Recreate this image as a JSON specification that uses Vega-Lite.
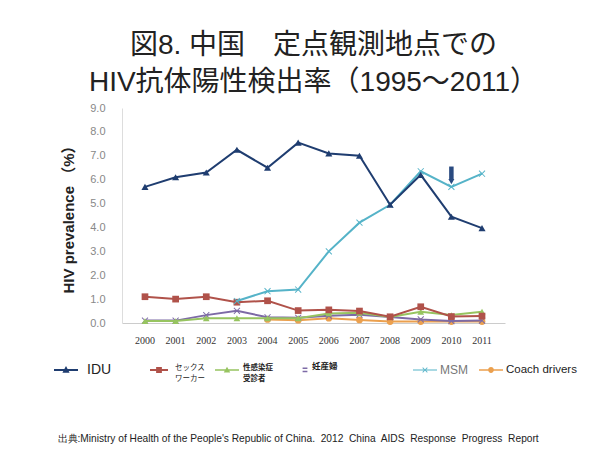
{
  "$schema": "https://vega.github.io/schema/vega-lite/v6.json",
  "width": 383,
  "height": 215,
  "autosize": {"type": "none"},
  "padding": {"left": 122, "top": 108, "right": 109, "bottom": 133},
  "background": "white",
  "config": {
    "view": {"stroke": null},
    "legend": {
      "orient": "none",
      "direction": "horizontal",
      "title": null,
      "padding": 0,
      "symbolSize": 576,
      "symbolStrokeWidth": 0,
      "labelOffset": 4,
      "labelColor": "#222222",
      "labelLimit": 300
    }
  },
  "title": {
    "text": ["図8. 中国　定点観測地点での", "HIV抗体陽性検出率（1995～2011）"],
    "font": "Liberation Sans, Noto Sans CJK JP",
    "fontSize": 28,
    "fontWeight": "normal",
    "color": "#222222",
    "lineHeight": 37,
    "anchor": "middle",
    "offset": 5
  },
  "resolve": {"scale": {"color": "independent"}},
  "data": {
    "values": [
      {"year": 2000, "group": "IDU", "value": 5.7},
      {"year": 2001, "group": "IDU", "value": 6.1},
      {"year": 2002, "group": "IDU", "value": 6.3},
      {"year": 2003, "group": "IDU", "value": 7.25},
      {"year": 2004, "group": "IDU", "value": 6.5},
      {"year": 2005, "group": "IDU", "value": 7.55},
      {"year": 2006, "group": "IDU", "value": 7.1},
      {"year": 2007, "group": "IDU", "value": 7.0},
      {"year": 2008, "group": "IDU", "value": 4.95},
      {"year": 2009, "group": "IDU", "value": 6.2},
      {"year": 2010, "group": "IDU", "value": 4.45},
      {"year": 2011, "group": "IDU", "value": 3.97},
      {"year": 2000, "group": "セックス|ワーカー", "value": 1.1},
      {"year": 2001, "group": "セックス|ワーカー", "value": 1.0},
      {"year": 2002, "group": "セックス|ワーカー", "value": 1.1},
      {"year": 2003, "group": "セックス|ワーカー", "value": 0.87},
      {"year": 2004, "group": "セックス|ワーカー", "value": 0.93},
      {"year": 2005, "group": "セックス|ワーカー", "value": 0.52},
      {"year": 2006, "group": "セックス|ワーカー", "value": 0.55},
      {"year": 2007, "group": "セックス|ワーカー", "value": 0.5},
      {"year": 2008, "group": "セックス|ワーカー", "value": 0.26},
      {"year": 2009, "group": "セックス|ワーカー", "value": 0.68},
      {"year": 2010, "group": "セックス|ワーカー", "value": 0.27},
      {"year": 2011, "group": "セックス|ワーカー", "value": 0.29},
      {"year": 2000, "group": "性感染症|受診者", "value": 0.08},
      {"year": 2001, "group": "性感染症|受診者", "value": 0.08},
      {"year": 2002, "group": "性感染症|受診者", "value": 0.2},
      {"year": 2003, "group": "性感染症|受診者", "value": 0.2},
      {"year": 2004, "group": "性感染症|受診者", "value": 0.2},
      {"year": 2005, "group": "性感染症|受診者", "value": 0.2},
      {"year": 2006, "group": "性感染症|受診者", "value": 0.4},
      {"year": 2007, "group": "性感染症|受診者", "value": 0.43},
      {"year": 2008, "group": "性感染症|受診者", "value": 0.25},
      {"year": 2009, "group": "性感染症|受診者", "value": 0.47},
      {"year": 2010, "group": "性感染症|受診者", "value": 0.33},
      {"year": 2011, "group": "性感染症|受診者", "value": 0.47},
      {"year": 2000, "group": "妊産婦", "value": 0.1},
      {"year": 2001, "group": "妊産婦", "value": 0.1},
      {"year": 2002, "group": "妊産婦", "value": 0.33},
      {"year": 2003, "group": "妊産婦", "value": 0.51},
      {"year": 2004, "group": "妊産婦", "value": 0.24},
      {"year": 2005, "group": "妊産婦", "value": 0.22},
      {"year": 2006, "group": "妊産婦", "value": 0.3},
      {"year": 2007, "group": "妊産婦", "value": 0.35},
      {"year": 2008, "group": "妊産婦", "value": 0.25},
      {"year": 2009, "group": "妊産婦", "value": 0.15},
      {"year": 2010, "group": "妊産婦", "value": 0.08},
      {"year": 2011, "group": "妊産婦", "value": 0.1},
      {"year": 2003, "group": "MSM", "value": 0.92},
      {"year": 2004, "group": "MSM", "value": 1.33},
      {"year": 2005, "group": "MSM", "value": 1.4},
      {"year": 2006, "group": "MSM", "value": 3.0},
      {"year": 2007, "group": "MSM", "value": 4.2},
      {"year": 2008, "group": "MSM", "value": 4.95},
      {"year": 2009, "group": "MSM", "value": 6.35},
      {"year": 2010, "group": "MSM", "value": 5.7},
      {"year": 2011, "group": "MSM", "value": 6.25},
      {"year": 2004, "group": "Coach drivers", "value": 0.15},
      {"year": 2005, "group": "Coach drivers", "value": 0.12},
      {"year": 2006, "group": "Coach drivers", "value": 0.2},
      {"year": 2007, "group": "Coach drivers", "value": 0.13},
      {"year": 2008, "group": "Coach drivers", "value": 0.06},
      {"year": 2009, "group": "Coach drivers", "value": 0.06},
      {"year": 2010, "group": "Coach drivers", "value": 0.06},
      {"year": 2011, "group": "Coach drivers", "value": 0.06}
    ]
  },
  "encoding": {
    "x": {
      "field": "year",
      "type": "ordinal",
      "scale": {"padding": 0.5},
      "axis": {
        "labelAngle": 0,
        "labelFont": "Liberation Serif",
        "labelFontSize": 10,
        "labelColor": "#333333",
        "labelPadding": 12,
        "ticks": false,
        "domainColor": "#cccccc",
        "title": "出典:Ministry of Health of the People's Republic of China.\u00a0 2012\u00a0 China\u00a0 AIDS\u00a0 Response\u00a0 Progress\u00a0 Report",
        "titleFont": "Liberation Sans",
        "titleFontSize": 10.2,
        "titleFontWeight": "normal",
        "titleColor": "#222222",
        "titleAlign": "left",
        "titleBaseline": "alphabetic",
        "titleX": -65,
        "titleY": 118
      }
    },
    "y": {
      "field": "value",
      "type": "quantitative",
      "scale": {"domain": [0, 9], "nice": false},
      "axis": {
        "values": [0, 1, 2, 3, 4, 5, 6, 7, 8, 9],
        "format": ".1f",
        "grid": false,
        "ticks": false,
        "domainColor": "#dddddd",
        "labelFont": "Liberation Sans",
        "labelFontSize": 11,
        "labelColor": "#888888",
        "labelPadding": 17,
        "title": "HIV prevalence （%）",
        "titleFont": "Liberation Sans, Noto Sans CJK JP",
        "titleFontSize": 15,
        "titleFontWeight": "bold",
        "titleColor": "#222222",
        "titlePadding": 13
      }
    }
  },
  "layer": [
    {
      "transform": [{"filter": "datum.group == 'Coach drivers'"}],
      "encoding": {
        "color": {
          "field": "group", "type": "nominal",
          "scale": {"domain": ["Coach drivers"], "range": ["#eba04e"]},
          "legend": {
            "legendX": 357, "legendY": 250,
            "symbolType": "M-1,-0.06H1V0.06H-1Z M0.24,0A0.24,0.24 0 1,1 -0.24,0A0.24,0.24 0 1,1 0.24,0Z",
            "labelFont": "Liberation Sans", "labelFontSize": 11.5, "labelOffset": 3,
            "encode": {"symbols": {"update": {"fill": {"value": "#eba04e"}, "opacity": {"value": 1}}}}
          }
        }
      },
      "layer": [
        {"mark": {"type": "line", "strokeWidth": 2}},
        {"mark": {"type": "point", "shape": "circle", "filled": true, "opacity": 1, "size": 45}}
      ]
    },
    {
      "transform": [{"filter": "datum.group == '妊産婦'"}],
      "encoding": {
        "color": {
          "field": "group", "type": "nominal",
          "scale": {"domain": ["妊産婦"], "range": ["#7d6aa6"]},
          "legend": {
            "legendX": 162, "legendY": 250,
            "symbolType": "M0.55,-0.2H0.95V-0.08H0.55Z M0.55,0.06H0.95V0.18H0.55Z",
            "labelFont": "Noto Sans CJK JP", "labelFontSize": 8.5, "labelFontWeight": "bold",
            "encode": {"symbols": {"update": {"fill": {"value": "#7d6aa6"}, "opacity": {"value": 1}}}, "labels": {"update": {"dy": {"value": -4}}}}
          }
        }
      },
      "layer": [
        {"mark": {"type": "line", "strokeWidth": 2}},
        {"mark": {"type": "point", "shape": "M-1,-0.8L-0.8,-1L0,-0.2L0.8,-1L1,-0.8L0.2,0L1,0.8L0.8,1L0,0.2L-0.8,1L-1,0.8L-0.2,0Z", "filled": true, "opacity": 1, "size": 45}}
      ]
    },
    {
      "transform": [{"filter": "datum.group == '性感染症|受診者'"}],
      "encoding": {
        "color": {
          "field": "group", "type": "nominal",
          "scale": {"domain": ["性感染症|受診者"], "range": ["#97c460"]},
          "legend": {
            "legendX": 93, "legendY": 250,
            "symbolType": "M-1,-0.06H1V0.06H-1Z M0,-0.28L0.27,0.2H-0.27Z",
            "labelFont": "Noto Sans CJK JP", "labelFontSize": 7.5, "labelFontWeight": "bold",
            "labelExpr": "split(datum.label, '|')",
            "encode": {"symbols": {"update": {"fill": {"value": "#97c460"}, "opacity": {"value": 1}}}, "labels": {"update": {"lineHeight": {"value": 11}, "dy": {"value": -2}}}}
          }
        }
      },
      "layer": [
        {"mark": {"type": "line", "strokeWidth": 2}},
        {"mark": {"type": "point", "shape": "triangle-up", "filled": true, "opacity": 1, "size": 45}}
      ]
    },
    {
      "transform": [{"filter": "datum.group == 'セックス|ワーカー'"}],
      "encoding": {
        "color": {
          "field": "group", "type": "nominal",
          "scale": {"domain": ["セックス|ワーカー"], "range": ["#b0524a"]},
          "legend": {
            "legendX": 25, "legendY": 250,
            "symbolType": "M-0.75,-0.08H0.75V0.08H-0.75Z M-0.24,-0.24H0.24V0.24H-0.24Z",
            "labelFont": "Noto Sans CJK JP", "labelFontSize": 7.5,
            "labelExpr": "split(datum.label, '|')",
            "encode": {"symbols": {"update": {"fill": {"value": "#b0524a"}, "opacity": {"value": 1}}}, "labels": {"update": {"lineHeight": {"value": 11}, "dy": {"value": -2}}}}
          }
        }
      },
      "layer": [
        {"mark": {"type": "line", "strokeWidth": 2}},
        {"mark": {"type": "point", "shape": "square", "filled": true, "opacity": 1, "size": 45}}
      ]
    },
    {
      "transform": [{"filter": "datum.group == 'MSM'"}],
      "encoding": {
        "color": {
          "field": "group", "type": "nominal",
          "scale": {"domain": ["MSM"], "range": ["#55b3c8"]},
          "legend": {
            "legendX": 291, "legendY": 250,
            "symbolType": "M-1,-0.05H1V0.05H-1Z M-0.22,-0.17L-0.17,-0.22L0,-0.05L0.17,-0.22L0.22,-0.17L0.05,0L0.22,0.17L0.17,0.22L0,0.05L-0.17,0.22L-0.22,0.17L-0.05,0Z",
            "labelFont": "Liberation Sans", "labelFontSize": 12, "labelColor": "#777777", "labelOffset": 3,
            "encode": {"symbols": {"update": {"fill": {"value": "#55b3c8"}, "opacity": {"value": 1}}}}
          }
        }
      },
      "layer": [
        {"mark": {"type": "line", "strokeWidth": 2}},
        {"mark": {"type": "point", "shape": "M-1,-0.8L-0.8,-1L0,-0.2L0.8,-1L1,-0.8L0.2,0L1,0.8L0.8,1L0,0.2L-0.8,1L-1,0.8L-0.2,0Z", "filled": true, "opacity": 1, "size": 45}}
      ]
    },
    {
      "transform": [{"filter": "datum.group == 'IDU'"}],
      "encoding": {
        "color": {
          "field": "group", "type": "nominal",
          "scale": {"domain": ["IDU"], "range": ["#1f3d70"]},
          "legend": {
            "legendX": -68, "legendY": 250,
            "symbolType": "M-1,-0.08H1V0.08H-1Z M0,-0.33L0.3,0.22H-0.3Z",
            "labelFont": "Liberation Sans", "labelFontSize": 14, "labelOffset": 9,
            "encode": {"symbols": {"update": {"fill": {"value": "#1f3d70"}, "opacity": {"value": 1}}}}
          }
        }
      },
      "layer": [
        {"mark": {"type": "line", "strokeWidth": 2}},
        {"mark": {"type": "point", "shape": "triangle-up", "filled": true, "opacity": 1, "size": 50}}
      ]
    },
    {
      "data": {"values": [{"year": 2010, "top": 6.55, "bottom": 6.0, "tip": 5.92}]},
      "layer": [
        {
          "mark": {"type": "rule", "strokeWidth": 4.5},
          "encoding": {
            "y": {"field": "top", "type": "quantitative"},
            "y2": {"field": "bottom"},
            "color": {"value": "#2a4a80"}
          }
        },
        {
          "mark": {"type": "point", "shape": "triangle-down", "filled": true, "size": 36, "opacity": 1},
          "encoding": {
            "y": {"field": "tip", "type": "quantitative"},
            "color": {"value": "#2a4a80"}
          }
        }
      ]
    }
  ]
}
